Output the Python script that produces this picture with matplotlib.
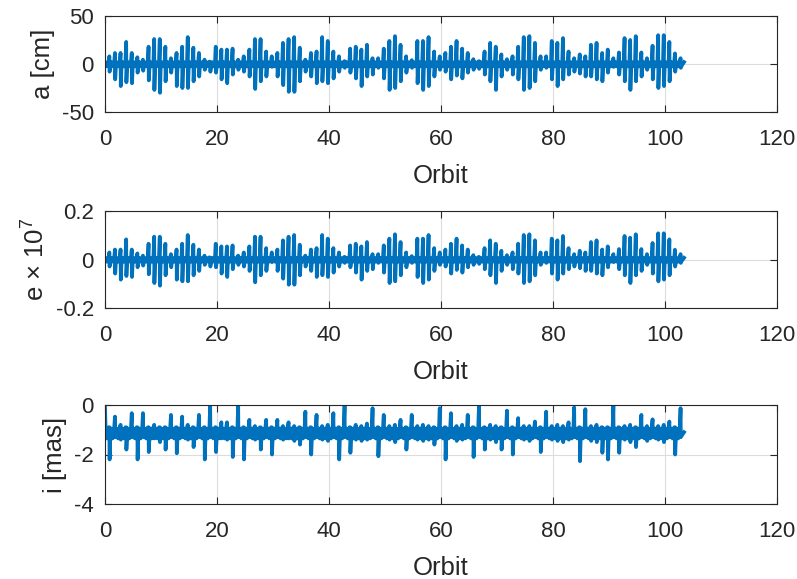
import matplotlib
matplotlib.use('Agg')
import matplotlib.pyplot as plt

plt.rcParams['font.family'] = ['Liberation Sans', 'DejaVu Sans']
plt.rcParams['mathtext.fontset'] = 'custom'
plt.rcParams['mathtext.rm'] = 'Liberation Sans'

# once-per-orbit spike extremes, orbit 0..102
a_top = [8, 11.5, 11.5, 23, 11.5, 7, 4.5, 18, 26, 26, 18, 6, 11.5, 18, 28, 17, 11.5, 4.5, 1, 18,
         15, 15, 16, 4.5, 8, 15, 26, 26, 13, 8, 11.5, 22, 26, 28, 17, 4.5, 11.5, 13, 28, 24,
         13, 8, 3, 16, 18, 15, 20, 6, 6, 16, 24, 29, 20, 8, 4, 24, 24, 28, 13, 8,
         11.5, 18, 24, 16, 11.5, 5, 3, 13, 22, 18, 10, 5, 8, 18, 28, 29, 22, 8, 8, 24,
         22, 27, 13, 6, 10, 8, 20, 22, 11.5, 15, 6, 12, 27, 25, 29, 12, 6, 19, 30, 30,
         23, 11, 6]
a_bot = [-8, -16, -23, -19, -20, -9, -7, -17, -27, -30, -18, -9, -23, -25, -25, -18, -13, -6, -8, -9,
         -16, -20, -11, -6, -8, -13, -26, -18, -13, -3, -13, -22, -29, -29, -18, -8, -13, -20, -18, -20,
         -15, -8, -4, -9, -15, -23, -13, -11, -4, -15, -27, -25, -18, -9, -4, -20, -27, -23, -13, -6,
         -8, -16, -12, -15, -9, -6, -5, -11, -18, -27, -13, -6, -11, -16, -27, -25, -18, -6, -4, -16,
         -23, -16, -11, -8, -10, -13, -13, -16, -18, -9, -3, -11, -18, -27, -18, -13, -6, -16, -25, -23,
         -18, -8, -4]

e_top = [0.029, 0.041, 0.041, 0.083, 0.041, 0.025, 0.016, 0.065, 0.094, 0.094,
         0.065, 0.022, 0.041, 0.065, 0.101, 0.061, 0.041, 0.016, 0.004, 0.065,
         0.054, 0.054, 0.058, 0.016, 0.029, 0.054, 0.094, 0.094, 0.047, 0.029,
         0.041, 0.079, 0.094, 0.101, 0.061, 0.016, 0.041, 0.047, 0.101, 0.086,
         0.047, 0.029, 0.011, 0.058, 0.065, 0.054, 0.072, 0.022, 0.022, 0.058,
         0.086, 0.104, 0.072, 0.029, 0.014, 0.086, 0.086, 0.101, 0.047, 0.029,
         0.041, 0.065, 0.086, 0.058, 0.041, 0.018, 0.011, 0.047, 0.079, 0.065,
         0.036, 0.018, 0.029, 0.065, 0.101, 0.104, 0.079, 0.029, 0.029, 0.086,
         0.079, 0.097, 0.047, 0.022, 0.036, 0.029, 0.072, 0.079, 0.041, 0.054,
         0.022, 0.043, 0.097, 0.090, 0.104, 0.043, 0.022, 0.068, 0.108, 0.108,
         0.083, 0.040, 0.022]
e_bot = [-0.029, -0.058, -0.083, -0.068, -0.072, -0.032, -0.025, -0.061, -0.097, -0.108,
         -0.065, -0.032, -0.083, -0.090, -0.090, -0.065, -0.047, -0.022, -0.029, -0.032,
         -0.058, -0.072, -0.040, -0.022, -0.029, -0.047, -0.094, -0.065, -0.047, -0.011,
         -0.047, -0.079, -0.104, -0.104, -0.065, -0.029, -0.047, -0.072, -0.065, -0.072,
         -0.054, -0.029, -0.014, -0.032, -0.054, -0.083, -0.047, -0.040, -0.014, -0.054,
         -0.097, -0.090, -0.065, -0.032, -0.014, -0.072, -0.097, -0.083, -0.047, -0.022,
         -0.029, -0.058, -0.043, -0.054, -0.032, -0.022, -0.018, -0.040, -0.065, -0.097,
         -0.047, -0.022, -0.040, -0.058, -0.097, -0.090, -0.065, -0.022, -0.014, -0.058,
         -0.083, -0.058, -0.040, -0.029, -0.036, -0.047, -0.047, -0.058, -0.065, -0.032,
         -0.011, -0.040, -0.065, -0.097, -0.065, -0.047, -0.022, -0.058, -0.090, -0.083,
         -0.065, -0.029, -0.014]

i_top = [-0.9, -0.47, -0.8, -0.9, -0.33, -0.9, -0.33, -0.9, -0.8, -0.9,
         -0.9, -0.4, -0.9, -0.47, -0.8, -0.9, -0.4, -0.9, -0.04, -0.9,
         -0.7, -0.7, -0.9, -0.04, -0.9, -0.6, -0.85, -0.9, -0.6, -0.9,
         -0.6, -0.85, -0.7, -0.85, -0.9, -0.27, -0.9, -0.4, -0.85, -0.8,
         -0.33, -0.9, -0.04, -0.9, -0.8, -0.85, -0.75, -0.13, -0.9, -0.4,
         -0.85, -0.8, -0.6, -0.9, -0.4, -0.85, -0.8, -0.85, -0.9, -0.13,
         -0.9, -0.33, -0.85, -0.8, -0.4, -0.9, -0.04, -0.9, -0.8, -0.85,
         -0.9, -0.23, -0.9, -0.53, -0.85, -0.85, -0.67, -0.9, -0.27, -0.85,
         -0.8, -0.85, -0.7, -0.1, -0.9, -0.17, -0.85, -0.8, -0.9, -0.9,
         -0.04, -0.9, -0.85, -0.8, -0.9, -0.4, -0.85, -0.58, -0.85, -0.8,
         -0.67, -0.9, -0.13]
i_bot = [-2.2, -1.3, -1.4, -1.8, -1.3, -2.2, -1.3, -1.9, -1.35, -1.5,
         -1.8, -1.3, -1.95, -1.3, -1.4, -1.7, -1.3, -2.2, -1.3, -1.9,
         -1.35, -1.4, -2.1, -1.3, -2.2, -1.3, -1.4, -1.8, -1.3, -2.0,
         -1.3, -1.4, -1.35, -1.45, -1.6, -1.3, -2.0, -1.3, -1.4, -1.45,
         -1.3, -2.2, -1.3, -1.93, -1.4, -1.45, -1.4, -1.3, -2.07, -1.3,
         -1.4, -1.5, -1.3, -1.8, -1.3, -1.4, -1.45, -1.4, -1.6, -1.3,
         -2.2, -1.3, -1.45, -1.4, -1.3, -2.1, -1.3, -1.8, -1.4, -1.5,
         -1.8, -1.3, -2.0, -1.3, -1.4, -1.45, -1.3, -1.9, -1.3, -1.4,
         -1.45, -1.5, -1.4, -1.3, -2.27, -1.3, -1.45, -1.5, -1.93, -2.2,
         -1.3, -1.93, -1.4, -1.5, -1.7, -1.3, -1.45, -1.3, -1.4, -1.5,
         -1.3, -2.0, -1.3]

# small wiggle between the spikes, and the first / last samples
a_ripple = [2.0, -2.5, 2.5, -2.0]
e_ripple = [0.007, -0.009, 0.009, -0.007]
i_ripple = [-0.95, -1.35, -0.9, -1.25]
a_ends = [0.0, 2.0]
e_ends = [0.0, 0.007]
i_ends = [-0.05, -1.1]
last_orbit = 103.4

blue = '#0072BD'


def orbit_series(tops, bots, ripple, ends):
    xs = [0.0]
    ys = [ends[0]]
    for n, (t, b) in enumerate(zip(tops, bots)):
        xs += [n + 0.1, n + 0.35, n + 0.65, n + 0.78, n + 0.82, n + 0.95]
        ys += [ripple[0], ripple[1], ripple[2], t, b, ripple[3]]
    xs.append(last_orbit)
    ys.append(ends[1])
    return xs, ys


fig = plt.figure(figsize=(7.97, 5.79), dpi=100)
W, H = 797, 579
boxes = [(16, 112), (211, 308), (405, 504)]
panels = [
    (a_top, a_bot, a_ripple, a_ends, 'a [cm]', (-50, 50), [-50, 0, 50], ['-50', '0', '50']),
    (e_top, e_bot, e_ripple, e_ends, 'e × 10$^{7}$', (-0.2, 0.2), [-0.2, 0, 0.2], ['-0.2', '0', '0.2']),
    (i_top, i_bot, i_ripple, i_ends, 'i [mas]', (-4, 0), [-4, -2, 0], ['-4', '-2', '0']),
]

for (top_px, bot_px), (tops, bots, rip, ends, ylab, ylim, yt, ytl) in zip(boxes, panels):
    ax = fig.add_axes([105 / W, 1 - bot_px / H, 672 / W, (bot_px - top_px) / H])
    xs, ys = orbit_series(tops, bots, rip, ends)
    ax.plot(xs, ys, color=blue, lw=2.7, solid_joinstyle='round')
    ax.set_xlim(0, 120)
    ax.set_ylim(*ylim)
    ax.set_xticks(range(0, 121, 20))
    ax.set_yticks(yt)
    ax.set_yticklabels(ytl)
    ax.grid(True, color='#dcdcdc', lw=0.8)
    ax.set_axisbelow(True)
    ax.tick_params(direction='in', top=True, right=True, length=5, width=0.8,
                   colors='#262626', labelsize=16)
    ax.tick_params(axis='x', pad=12)
    ax.tick_params(axis='y', pad=8)
    for sp in ax.spines.values():
        sp.set_color('#262626')
        sp.set_linewidth(0.8)
    ax.set_xlabel('Orbit', fontsize=18.5, color='#262626', labelpad=10)
    ax.set_ylabel(ylab, fontsize=18.5, color='#262626', labelpad=5)

fig.savefig('out.png', dpi=100)
